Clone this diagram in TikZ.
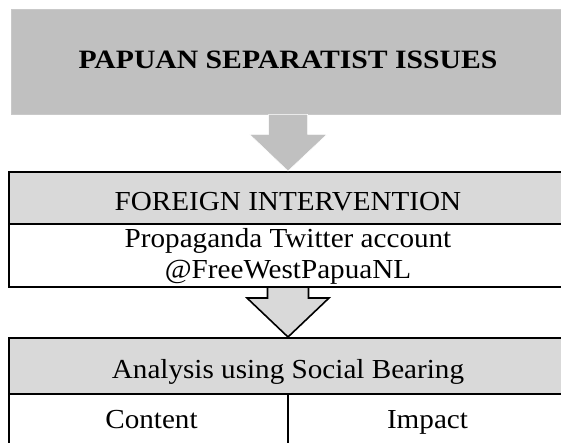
\documentclass[tikz,border=0pt]{standalone}
\usepackage{fontspec}
\setmainfont{Liberation Serif}[FakeStretch=1.06]
\newfontfamily\titlefont{Liberation Serif}[FakeStretch=1.12]
\usetikzlibrary{calc}
\definecolor{topgray}{HTML}{C0C0C0}
\definecolor{hdrgray}{HTML}{D9D9D9}
\tikzset{
  txt/.style={font=\fontsize{27.5}{31}\selectfont, align=center, inner sep=0pt, text height=19pt, text depth=6pt},
  topbox/.style={txt, fill=topgray, draw=topgray!85!white, line width=0.6pt, minimum width=554pt, minimum height=105pt, font=\titlefont\fontsize{26.5}{31}\selectfont\bfseries},
  hdrbox/.style={txt, fill=hdrgray, draw=black, line width=2pt, minimum width=558pt, text height=26pt, text depth=2pt},
  cellbox/.style={txt, fill=white, draw=black, line width=2pt},
  grayarrow/.style={fill=topgray, draw=white, line width=0.5pt},
  outarrow/.style={fill=hdrgray, draw=black, line width=1.6pt, line join=miter},
}
\begin{document}
\begin{tikzpicture}[x=1pt,y=1pt]
\useasboundingbox (0,0) rectangle (561,-442);
\clip (0,0) rectangle (561,-442);
% top box
\node[topbox] (issues) at (288,-61.5) {PAPUAN SEPARATIST ISSUES};
% box 2
\node[cellbox, minimum width=558pt, minimum height=63pt, text height=51pt, text depth=6pt] (prop) at (288,-255.5) {Propaganda Twitter account\\@FreeWestPapuaNL};
\node[hdrbox, minimum height=52pt] (foreign) at (288,-198) {FOREIGN INTERVENTION};
% box 3
\node[cellbox, minimum width=279pt, minimum height=56pt] (content) at (148.5,-422) {\hspace*{6pt}Content};
\node[cellbox, minimum width=279pt, minimum height=56pt] (impact) at (427.5,-422) {Impact};
\node[hdrbox, minimum height=56pt] (analysis) at (288,-366) {Analysis using Social Bearing};
% arrow 1
\draw[grayarrow] ($(issues.south)+(-19.5,0)$) -- ++(0,-20) -- ++(-19,0)
  -- (foreign.north) -- ($(issues.south)+(39,-20)$) -- ++(-19.5,0) -- ($(issues.south)+(19.5,0)$) -- cycle;
% arrow 2
\coordinate (a2s) at (prop.south);
\draw[outarrow] ($(a2s)+(-20.5,0)$) -- ++(0,-10) -- ++(-20.5,0)
  -- (analysis.north) -- ($(a2s)+(41,-10)$) -- ++(-20.5,0) -- ($(a2s)+(20.5,0)$);
\end{tikzpicture}
\end{document}
